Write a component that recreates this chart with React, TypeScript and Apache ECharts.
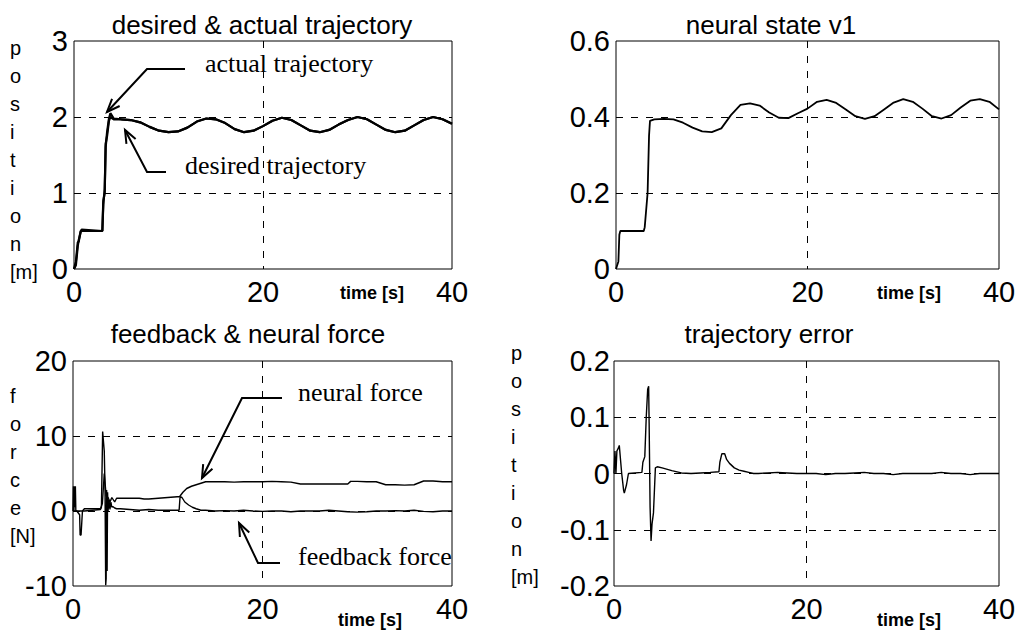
import React, { useEffect, useRef } from "react";
import * as echarts from "echarts";

// ---------- Panel 1: desired & actual trajectory ----------
const trajTime = [0, 0.2, 0.4, 0.5, 0.7, 0.8, 3.0, 3.1, 3.25, 3.35, 3.5, 3.7, 3.85, 4.2, 5, 6, 7, 8, 9, 10, 11, 12, 13, 14, 15, 16, 17, 18, 19, 20, 21, 22, 23, 24, 25, 26, 27, 28, 29, 30, 31, 32, 33, 34, 35, 36, 37, 38, 39, 40];
const desiredPos = [0, 0.1, 0.35, 0.36, 0.5, 0.5, 0.5, 0.9, 1.0, 1.65, 1.75, 1.95, 2.0, 1.97, 1.97, 1.96, 1.93, 1.87, 1.82, 1.80, 1.81, 1.86, 1.94, 1.98, 1.97, 1.92, 1.84, 1.80, 1.82, 1.88, 1.95, 1.99, 1.96, 1.89, 1.82, 1.80, 1.83, 1.90, 1.96, 2.0, 1.97, 1.90, 1.83, 1.80, 1.82, 1.89, 1.96, 2.0, 1.97, 1.91];
const actualPos = [0, 0.05, 0.3, 0.38, 0.48, 0.52, 0.5, 0.85, 1.05, 1.6, 1.8, 1.98, 2.05, 1.98, 1.97, 1.96, 1.93, 1.87, 1.82, 1.80, 1.81, 1.86, 1.94, 1.98, 1.97, 1.92, 1.84, 1.80, 1.82, 1.88, 1.95, 1.99, 1.96, 1.89, 1.82, 1.80, 1.83, 1.90, 1.96, 2.0, 1.97, 1.90, 1.83, 1.80, 1.82, 1.89, 1.96, 2.0, 1.97, 1.91];

// ---------- Panel 2: neural state v1 ----------
const v1Time = [0, 0.25, 0.35, 0.45, 2.9, 3.0, 3.3, 3.45, 3.55, 4, 5, 6, 7, 8, 9, 10, 11, 12, 13, 14, 15, 16, 17, 18, 19, 20, 21, 22, 23, 24, 25, 26, 27, 28, 29, 30, 31, 32, 33, 34, 35, 36, 37, 38, 39, 40];
const v1State = [0, 0.02, 0.09, 0.1, 0.1, 0.11, 0.2, 0.35, 0.39, 0.394, 0.395, 0.394, 0.385, 0.372, 0.362, 0.36, 0.37, 0.405, 0.432, 0.436, 0.43, 0.412, 0.398, 0.397, 0.41, 0.422, 0.44, 0.445, 0.437, 0.42, 0.402, 0.395, 0.402, 0.42, 0.438, 0.447, 0.44, 0.422, 0.402, 0.396, 0.405, 0.425, 0.443, 0.447, 0.44, 0.42];

// ---------- Panel 3: feedback & neural force ----------
const feedbackTime = [0, 0.05, 0.1, 0.15, 0.2, 0.25, 0.3, 0.4, 0.7, 0.75, 0.85, 0.95, 1.0, 1.2, 2.9, 3.0, 3.13, 3.2, 3.3, 3.38, 3.45, 3.5, 3.55, 3.6, 3.65, 3.7, 3.8, 3.9, 4.0, 4.1, 4.2, 4.4, 4.6, 5, 6, 7, 8, 9, 10, 11, 11.2, 11.3, 11.5, 11.8, 12.2, 12.6, 13, 13.5, 14, 15, 16, 17, 18, 19, 20, 21, 22, 23, 24, 25, 26, 27, 28, 29, 30, 31, 32, 33, 34, 35, 36, 37, 38, 39, 40];
const feedbackForce = [0, 3.3, 0, 3.3, 0.5, 3.3, 0, 0, -0.5, -3.2, -3.2, -1, 0, 0, 0.2, 0.5, 10.6, 9.5, 8, 3, -9.9, -9, 2.8, -8, 2.5, 0, 1.5, 0.2, 1.2, 0.5, 0.6, 0.4, 0.3, 0.3, 0.2, 0.1, 0.2, 0.1, 0.1, 0.1, 0.1, 1.9, 1.8, 1.2, 0.8, 0.5, 0.3, 0.1, 0.1, 0, 0.05, 0, 0.1, 0, -0.05, 0, 0, -0.1, 0, 0, 0, 0.1, 0, -0.1, -0.15, -0.1, 0, 0, 0.05, 0, 0.1, -0.05, -0.1, 0, 0];
const neuralTime = [0, 1.0, 1.2, 2.9, 3.1, 3.3, 3.5, 3.7, 3.9, 4.1, 4.4, 4.6, 5, 6, 7, 7.5, 8, 9, 10, 11, 11.2, 11.3, 11.6, 12, 12.5, 13, 13.5, 14, 15, 16, 17, 18, 19, 20, 21, 22, 23, 24, 25, 26, 27, 28, 29, 29.3, 30, 31, 32, 33, 34, 35, 36, 37, 38, 39, 40];
const neuralForce = [0, 0, 0.3, 0.3, 1, 5, 2, 1.8, 1.2, 1.8, 1.2, 1.7, 1.7, 1.7, 1.7, 1.6, 1.6, 1.7, 1.8, 1.9, 1.9, 2.0, 2.5, 3.0, 3.3, 3.5, 3.7, 3.9, 3.9, 3.9, 3.85, 3.9, 3.9, 3.9, 3.95, 3.9, 3.85, 3.6, 3.6, 3.6, 3.6, 3.6, 3.6, 3.95, 3.95, 3.9, 3.9, 3.5, 3.5, 3.45, 3.5, 4.0, 4.0, 3.9, 3.9];

// ---------- Panel 4: trajectory error ----------
const errorTime = [0, 0.1, 0.2, 0.3, 0.45, 0.55, 0.7, 0.8, 1.0, 1.07, 1.3, 1.5, 2.9, 3.0, 3.2, 3.35, 3.5, 3.6, 3.65, 3.75, 3.85, 3.95, 4.1, 4.3, 4.5, 5, 6, 7, 8, 9, 10, 10.9, 11.0, 11.2, 11.5, 11.7, 12.0, 12.5, 13, 13.5, 14, 14.5, 15, 16, 17, 18, 19, 20, 21, 22, 23, 24, 25, 26, 27, 28, 29, 30, 31, 32, 33, 34, 35, 36, 37, 38, 39, 40];
const errorPos = [0, 0.04, 0.0, 0.04, 0.045, 0.05, 0.02, 0, -0.03, -0.035, -0.02, 0, 0.002, 0.02, 0.03, 0.1, 0.15, 0.155, 0.09, -0.06, -0.12, -0.09, -0.07, 0.01, 0.012, 0.01, 0.005, 0.001, 0, 0.001, 0.002, 0.003, 0.02, 0.035, 0.035, 0.025, 0.018, 0.01, 0.006, 0.004, 0.002, 0, 0, 0.001, 0.002, 0.001, 0, 0, 0, -0.002, 0, 0, 0.001, 0.002, 0, 0, -0.002, 0, 0, 0, 0, 0.002, 0, 0, -0.002, 0, 0, 0];

// ---------- Tick settings ----------
const xTicks = { min: 0, max: 40, interval: 20 };
const yTicks = [
  { min: 0, max: 3, interval: 1 },
  { min: 0, max: 0.6, interval: 0.2 },
  { min: -10, max: 20, interval: 10 },
  { min: -0.2, max: 0.2, interval: 0.1 },
];

const pairs = (t: number[], v: number[]) => t.map((x, i) => [x, v[i]]);

const SANS = "Liberation Sans, Arial, sans-serif";
const SERIF = "Liberation Serif, Times New Roman, serif";

const grids = [
  { left: 74, top: 41, width: 378, height: 228 },
  { left: 616, top: 41, width: 383, height: 228 },
  { left: 73, top: 361, width: 379, height: 225 },
  { left: 614, top: 361, width: 385, height: 225 },
];

function arrow(points: number[][], headLen = 14, spread = 0.38) {
  const n = points.length;
  const [tx, ty] = points[n - 1];
  const [px, py] = points[n - 2];
  const ang = Math.atan2(ty - py, tx - px);
  const h1 = [tx - headLen * Math.cos(ang - spread), ty - headLen * Math.sin(ang - spread)];
  const h2 = [tx - headLen * Math.cos(ang + spread), ty - headLen * Math.sin(ang + spread)];
  return [
    { type: "polyline", shape: { points }, style: { stroke: "#000", lineWidth: 2 } },
    { type: "polyline", shape: { points: [h1, [tx, ty], h2] }, style: { stroke: "#000", lineWidth: 2 } },
  ];
}

function txt(text: string, x: number, y: number, fontSize: number, fontFamily: string, align = "left", vAlign = "middle", lineHeight?: number, fontWeight = "normal") {
  return {
    type: "text",
    x,
    y,
    style: {
      text,
      fontSize,
      fontFamily,
      fontWeight,
      fill: "#000",
      align,
      verticalAlign: vAlign,
      lineHeight,
    },
  };
}

export default function App() {
  const ref = useRef<HTMLDivElement>(null);
  useEffect(() => {
    const chart = echarts.init(ref.current!, null, { renderer: "svg" });
    const dash = [7, 8];
    const option: any = {
      animation: false,
      backgroundColor: "#fff",
      grid: grids.map((g) => ({ ...g, show: true, borderColor: "#000", borderWidth: 1, backgroundColor: "transparent", containLabel: false })),
      xAxis: grids.map((_, i) => ({
        type: "value",
        gridIndex: i,
        ...xTicks,
        axisLine: { show: false },
        axisTick: { show: false },
        axisLabel: { fontSize: 29, color: "#000", fontFamily: SANS, margin: 8 },
        splitLine: { show: true, showMinLine: false, showMaxLine: false, lineStyle: { color: "#000", type: dash, width: 1 } },
      })),
      yAxis: grids.map((_, i) => ({
        type: "value",
        gridIndex: i,
        ...yTicks[i],
        axisLine: { show: false },
        axisTick: { show: false },
        axisLabel: { fontSize: 29, color: "#000", fontFamily: SANS, margin: i === 3 ? 4 : 6 },
        splitLine: { show: true, showMinLine: false, showMaxLine: false, lineStyle: { color: "#000", type: dash, width: 1 } },
      })),
      series: [
        { name: "desired trajectory", type: "line", xAxisIndex: 0, yAxisIndex: 0, data: pairs(trajTime, desiredPos), showSymbol: false, lineStyle: { color: "#000", width: 2.2 } },
        { name: "actual trajectory", type: "line", xAxisIndex: 0, yAxisIndex: 0, data: pairs(trajTime, actualPos), showSymbol: false, lineStyle: { color: "#000", width: 2.2 } },
        { name: "neural state v1", type: "line", xAxisIndex: 1, yAxisIndex: 1, data: pairs(v1Time, v1State), showSymbol: false, lineStyle: { color: "#000", width: 1.8 } },
        { name: "feedback force", type: "line", xAxisIndex: 2, yAxisIndex: 2, data: pairs(feedbackTime, feedbackForce), showSymbol: false, lineStyle: { color: "#000", width: 1.4 } },
        { name: "neural force", type: "line", xAxisIndex: 2, yAxisIndex: 2, data: pairs(neuralTime, neuralForce), showSymbol: false, lineStyle: { color: "#000", width: 1.4 } },
        { name: "trajectory error", type: "line", xAxisIndex: 3, yAxisIndex: 3, data: pairs(errorTime, errorPos), showSymbol: false, lineStyle: { color: "#000", width: 1.4 } },
      ],
      graphic: [
        // titles
        txt("desired & actual trajectory", 262, 25, 26, SANS, "center"),
        txt("neural state v1", 771, 25, 26, SANS, "center"),
        txt("feedback & neural force", 248, 334, 26, SANS, "center"),
        txt("trajectory error", 769, 334, 26, SANS, "center"),
        // vertical axis names
        txt("p\no\ns\ni\nt\ni\no\nn\n[m]", 10, 34, 20, SANS, "left", "top", 28),
        txt("f\no\nr\nc\ne\n[N]", 10, 382, 20, SANS, "left", "top", 28),
        txt("p\no\ns\ni\nt\ni\no\nn\n[m]", 511, 339, 20, SANS, "left", "top", 28),
        // time labels
        txt("time [s]", 340, 293, 18, SANS, "left", "middle", undefined, "bold"),
        txt("time [s]", 877, 293, 18, SANS, "left", "middle", undefined, "bold"),
        txt("time [s]", 338, 620, 18, SANS, "left", "middle", undefined, "bold"),
        txt("time [s]", 877, 620, 18, SANS, "left", "middle", undefined, "bold"),
        // annotations
        txt("actual trajectory", 205, 63, 26, SERIF),
        txt("desired trajectory", 185, 165, 26, SERIF),
        txt("neural force", 298, 392, 26, SERIF),
        txt("feedback force", 298, 556, 26, SERIF),
        ...arrow([[185, 69], [147, 69], [107, 112]]),
        ...arrow([[166, 172], [147, 172], [125, 130]]),
        ...arrow([[282, 398], [242, 398], [202, 478]]),
        ...arrow([[280, 563], [258, 563], [239, 523]]),
      ],
    };
    chart.setOption(option);
    return () => chart.dispose();
  }, []);
  return (
    <div
      ref={ref}
      style={{ position: "fixed", left: 0, top: 0, width: 1020, height: 632, background: "#fff" }}
    />
  );
}
